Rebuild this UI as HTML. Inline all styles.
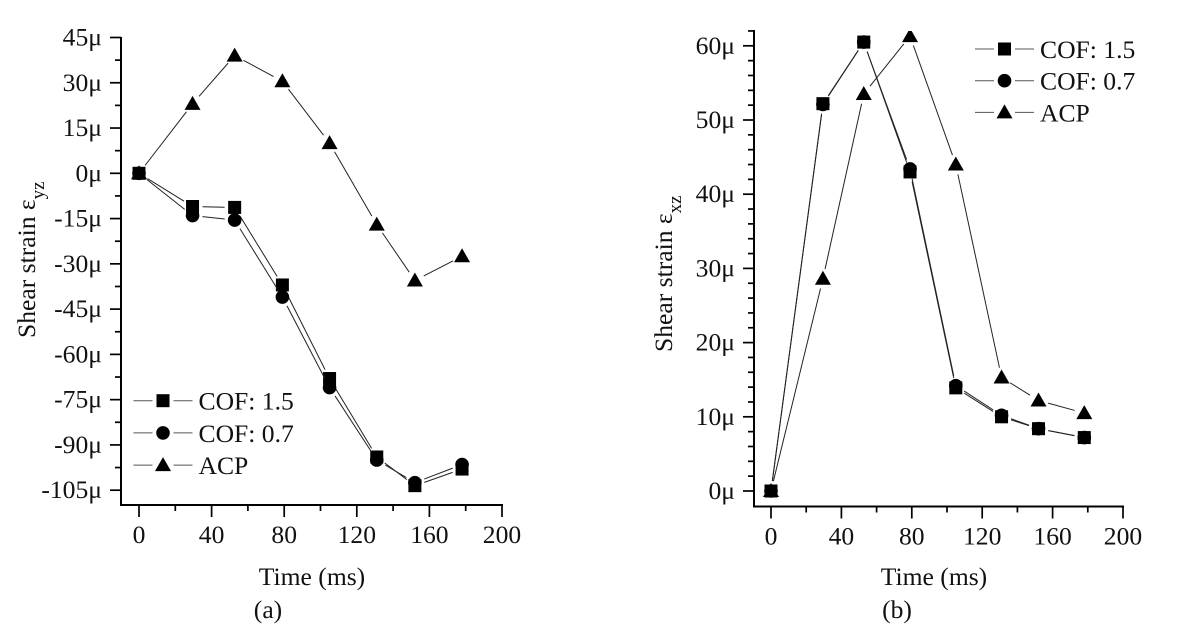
<!DOCTYPE html>
<html lang="en">
<head>
<meta charset="utf-8">
<title>Shear strain vs time</title>
<style>
html,body{margin:0;padding:0;background:#fff;width:1194px;height:637px;overflow:hidden}
svg{display:block;filter:blur(.35px)}
text{font-family:"Liberation Serif",serif;fill:#111;font-size:25.6px}
</style>
</head>
<body>
<svg id="figure" xmlns="http://www.w3.org/2000/svg" width="1194" height="637" viewBox="0 0 1194 637"></svg>
<script>
var timeMs = [0, 29.5, 52.7, 79, 105, 131, 152, 178];
var seriesNames = ['COF: 1.5', 'COF: 0.7', 'ACP'];
var aCof15 = [0, -11, -11.3, -37, -68, -94, -103.5, -98];
var aCof07 = [0, -14, -15.5, -41, -71, -95, -102.5, -96.5];
var aAcp = [0, 23, 39, 30.5, 10, -17, -35.5, -27.5];
var bCof15 = [0, 52.2, 60.5, 43, 13.9, 10, 8.4, 7.2];
var bCof07 = [0, 52.1, 60.5, 43.4, 14.2, 10.2, 8.4, 7.2];
var bAcp = [0, 28.6, 53.5, 61.3, 44, 15.3, 12.2, 10.5];
var xTicks = [0, 40, 80, 120, 160, 200];
var xMinorTicks = [20, 60, 100, 140, 180];
var aYTicks = [45, 30, 15, 0, -15, -30, -45, -60, -75, -90, -105];
var aYMinorTicks = [37.5, 22.5, 7.5, -7.5, -22.5, -37.5, -52.5, -67.5, -82.5, -97.5];
var bYTicks = [60, 50, 40, 30, 20, 10, 0];
var bYMinorTicks = [62, 58, 56, 54, 52, 48, 46, 44, 42, 38, 36, 34, 32, 28, 26, 24, 22, 18, 16, 14, 12, 8, 6, 4, 2];

var NS = 'http://www.w3.org/2000/svg';
var svg = document.getElementById('figure');

function make(parent, tag, attrs, txt) {
  var el = document.createElementNS(NS, tag);
  for (var k in attrs) el.setAttribute(k, attrs[k]);
  if (txt !== undefined) el.textContent = txt;
  parent.appendChild(el);
  return el;
}

function drawMarker(parent, kind, cx, cy) {
  var el;
  if (kind === 0) {
    el = make(parent, 'rect', {x: cx - 6.5, y: cy - 6.5, width: 13, height: 13, fill: '#000'});
    
    
  } else if (kind === 1) {
    el = make(parent, 'circle', {cx: cx, cy: cy, r: 6.8, fill: '#000'});
    
    
  } else {
    el = make(parent, 'polygon', {points: (cx - 8) + ',' + (cy + 6) + ' ' + (cx + 8) + ',' + (cy + 6) + ' ' + cx + ',' + (cy - 8), fill: '#000'});
    
    
  }
}

function drawPanel(p) {
  var g = make(svg, 'g', {});
  
  
  function xScale(v) { return p.x0 + v * p.xk; }
  function yScale(v) { return p.y0 - v * p.yk; }
  var clipId = p.name + '-clip';
  var defs = make(g, 'defs', {});
  var cp = make(defs, 'clipPath', {id: clipId});
  make(cp, 'rect', {x: p.axisX, y: p.axisTop, width: 420, height: p.axisBottom - p.axisTop});

  var axisY = make(g, 'line', {x1: p.axisX, x2: p.axisX, y1: p.axisTop - 1, y2: p.axisBottom + 1, stroke: '#000', 'stroke-width': 2});
  
  
  var axisX = make(g, 'line', {x1: p.axisX - 1, x2: xScale(200) + 1, y1: p.axisBottom, y2: p.axisBottom, stroke: '#000', 'stroke-width': 2});
  
  

  p.yTicks.forEach(function (v) {
    var y = yScale(v);
    var t = make(g, 'line', {x1: p.axisX - 11, x2: p.axisX, y1: y, y2: y, stroke: '#000', 'stroke-width': 1.7});
    
    
    var lab = make(g, 'text', {x: p.axisX - 19, y: y + 8, 'text-anchor': 'end'}, v + 'μ');
    
    
  });
  p.yMinor.forEach(function (v) {
    var y = yScale(v);
    var t = make(g, 'line', {x1: p.axisX - 6, x2: p.axisX, y1: y, y2: y, stroke: '#000', 'stroke-width': 1.7});
    
    
  });
  xTicks.forEach(function (v) {
    var x = xScale(v);
    var t = make(g, 'line', {x1: x, x2: x, y1: p.axisBottom, y2: p.axisBottom + 12, stroke: '#000', 'stroke-width': 1.7});
    
    
    var lab = make(g, 'text', {x: x, y: p.axisBottom + 38, 'text-anchor': 'middle'}, String(v));
    
    
  });
  xMinorTicks.forEach(function (v) {
    var x = xScale(v);
    var t = make(g, 'line', {x1: x, x2: x, y1: p.axisBottom, y2: p.axisBottom + 6, stroke: '#000', 'stroke-width': 1.7});
    
    
  });

  var plot = make(g, 'g', {'clip-path': 'url(#' + clipId + ')'});
  
  
  var order = [2, 0, 1];
  order.forEach(function (s) {
    var values = p.series[s];
    var sg = make(plot, 'g', {});
    
    
    var gap = 10;
    for (var i = 0; i < values.length - 1; i++) {
      var xa = xScale(timeMs[i]), ya = yScale(values[i]);
      var xb = xScale(timeMs[i + 1]), yb = yScale(values[i + 1]);
      var len = Math.sqrt((xb - xa) * (xb - xa) + (yb - ya) * (yb - ya));
      if (len <= gap * 2) continue;
      var ux = (xb - xa) / len, uy = (yb - ya) / len;
      var seg = make(sg, 'line', {x1: xa + ux * gap, y1: ya + uy * gap, x2: xb - ux * gap, y2: yb - uy * gap, stroke: '#222', 'stroke-width': 1});
      
      
    }
    values.forEach(function (v, i) {
      drawMarker(sg, s, xScale(timeMs[i]), yScale(v));
    });
  });

  var leg = make(g, 'g', {});
  
  
  seriesNames.forEach(function (n, s) {
    var ly = p.legY + s * p.legDy;
    var entry = make(leg, 'g', {});
    
    
    make(entry, 'line', {x1: p.legX, x2: p.legX + 19, y1: ly, y2: ly, stroke: '#555', 'stroke-width': 1});
    make(entry, 'line', {x1: p.legX + 40, x2: p.legX + 59, y1: ly, y2: ly, stroke: '#555', 'stroke-width': 1});
    drawMarker(entry, s, p.legX + 29.5, ly);
    var lt = make(entry, 'text', {x: p.legX + 65, y: ly + 9}, n);
    
    
  });

  var title = make(g, 'text', {transform: 'translate(' + p.ytX + ',' + p.ytY + ') rotate(-90)'});
  
  
  make(title, 'tspan', {}, 'Shear strain ε');
  make(title, 'tspan', {dy: 9, style: 'font-size:19px'}, p.sub);

  var xt = make(g, 'text', {x: p.xtX, y: 585, 'text-anchor': 'middle'}, 'Time (ms)');
  
  
  var cap = make(g, 'text', {x: p.capX, y: 618, 'text-anchor': 'middle'}, p.caption);
  
  
}

drawPanel({
  name: 'panel-a', x0: 139, xk: 1.815, y0: 173.3, yk: 3.018,
  axisX: 121, axisTop: 38, axisBottom: 505,
  yTicks: aYTicks, yMinor: aYMinorTicks,
  series: [aCof15, aCof07, aAcp],
  legX: 133.5, legY: 400.7, legDy: 32.2,
  ytX: 35, ytY: 338, sub: 'yz', xtX: 312, capX: 268, caption: '(a)'
});
drawPanel({
  name: 'panel-b', x0: 771, xk: 1.76, y0: 491, yk: 7.42,
  axisX: 754, axisTop: 31, axisBottom: 506.5,
  yTicks: bYTicks, yMinor: bYMinorTicks,
  series: [bCof15, bCof07, bAcp],
  legX: 975, legY: 49, legDy: 31.7,
  ytX: 672, ytY: 352, sub: 'xz', xtX: 934, capX: 897, caption: '(b)'
});
</script>
</body>
</html>
